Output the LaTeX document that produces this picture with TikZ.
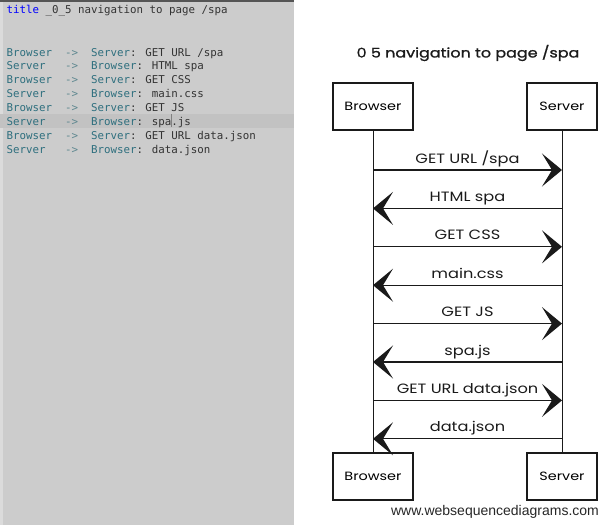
\documentclass[tikz,border=0pt]{standalone}
\usepackage{fontspec}
\setmainfont{Poppins}
\newfontfamily\codefont{DejaVu Sans Mono}
\newfontfamily\sketchfont[FakeStretch = 1.2]{Poppins}
\newfontfamily\sketchtitle[FakeStretch = 1.2, FakeBold = 1.2]{Poppins}
\newfontfamily\webfont{Liberation Sans}
\usetikzlibrary{arrows.meta}

\definecolor{panel}{HTML}{CCCCCC}
\definecolor{panelbar}{HTML}{555555}
\definecolor{curline}{HTML}{C2C2C2}
\definecolor{keyword}{HTML}{0000FF}
\definecolor{actor}{HTML}{2E6F7E}
\definecolor{arrowop}{HTML}{5F8890}
\definecolor{msgtext}{HTML}{333333}
\definecolor{ink}{HTML}{1A1A1A}

\begin{document}
\begin{tikzpicture}[x = 1pt, y = -1pt,
	> = {Stealth[length = 20pt, width = 33pt, inset = 10pt]},
	code/.style = {anchor = base west, inner sep = 0pt, font = \codefont\fontsize{10.8}{13}\selectfont},
	actorbox/.style = {draw = ink, line width = 1.2pt, minimum height = 47pt, inner sep = 0pt, font = \sketchfont\fontsize{12}{14}\selectfont},
	lifeline/.style = {draw = ink, line width = 1pt},
	message/.style = {draw = ink, line width = 1.3pt, ->},
	msglabel/.style = {anchor = base, yshift = 7pt, inner sep = 0pt, text = ink, font = \sketchfont\fontsize{13.5}{15}\selectfont}]

	% Definitions

	\def\charw{6.5}		% advance of one editor character
	\def\rowh{13.9}		% editor row height
	\def\xb{373}		% x of the Browser lifeline
	\def\xs{562}		% x of the Server lifeline
	\def\msgtop{170}	% y of the first message
	\def\msgstep{38.4}	% distance between messages

	\useasboundingbox (0, 0) rectangle (615, 525);

	% Editor panel

	\fill [panel] (0, 0) rectangle (294, 525);
	\fill [panelbar] (0, 0) rectangle (294, 2);
	\fill [white, opacity = 0.3] (0, 2) rectangle (3, 525);
	\fill [curline] (0, 114) rectangle (294, 128);
	\draw [gray, line width = 0.8pt] (171, 114) -- (171, 127);

	\node [code, text = keyword] (kw) at (6.5, 13) {title};
	\node [code, text = msgtext] (ttl) at ({6.5 + 6 * \charw}, 13) {\_0\_5 navigation to page /spa};

	\foreach \src/\dst/\txt [count = \i] in {Browser/Server/{GET URL /spa}, Server/Browser/{HTML spa},
		Browser/Server/{GET CSS}, Server/Browser/{main.css}, Browser/Server/{GET JS},
		Server/Browser/{spa.js}, Browser/Server/{GET URL data.json}, Server/Browser/{data.json}}
	{
		\node [code, text = actor] (src\i) at (6.5, {56 + (\i - 1) * \rowh}) {\src};
		\node [code, text = arrowop] (arr\i) at ({6.5 + 9 * \charw}, {56 + (\i - 1) * \rowh}) {->};
		\node [code, text = actor] (dst\i) at ({6.5 + 13 * \charw}, {56 + (\i - 1) * \rowh}) {\dst\textcolor{msgtext}{: \txt}};
	}

	% Sequence diagram

	\node [font = \sketchtitle\fontsize{13.3}{15}\selectfont, text = ink] (title) at (468, 53) {0 5 navigation to page /spa};

	\node [actorbox, minimum width = 80pt] (brTop) at (\xb, 106.5) {Browser};
	\node [actorbox, minimum width = 70pt] (svTop) at (\xs, 106.5) {Server};
	\node [actorbox, minimum width = 80pt] (brBot) at (\xb, 476.5) {Browser};
	\node [actorbox, minimum width = 70pt] (svBot) at (\xs, 476.5) {Server};

	\draw [lifeline] (brTop) -- (brBot);
	\draw [lifeline] (svTop) -- (svBot);

	% Messages

	\foreach \i in {1, 2, ..., 8}
	{
		\coordinate (b\i) at (\xb, {\msgtop + (\i - 1) * \msgstep});
		\coordinate (s\i) at (\xs, {\msgtop + (\i - 1) * \msgstep});
	}

	\foreach \from/\to/\txt [count = \i] in {b/s/{GET URL /spa}, s/b/{HTML spa}, b/s/{GET CSS}, s/b/{main.css},
		b/s/{GET JS}, s/b/{spa.js}, b/s/{GET URL data.json}, s/b/{data.json}}
		\draw [message] (\from\i) -- node [msglabel] (lbl\i) {\txt} (\to\i);

	\node [anchor = base, inner sep = 0pt, text = black!85, font = \webfont\fontsize{14}{16}\selectfont] (site) at (495, 515) {www.websequencediagrams.com};

\end{tikzpicture}
\end{document}
